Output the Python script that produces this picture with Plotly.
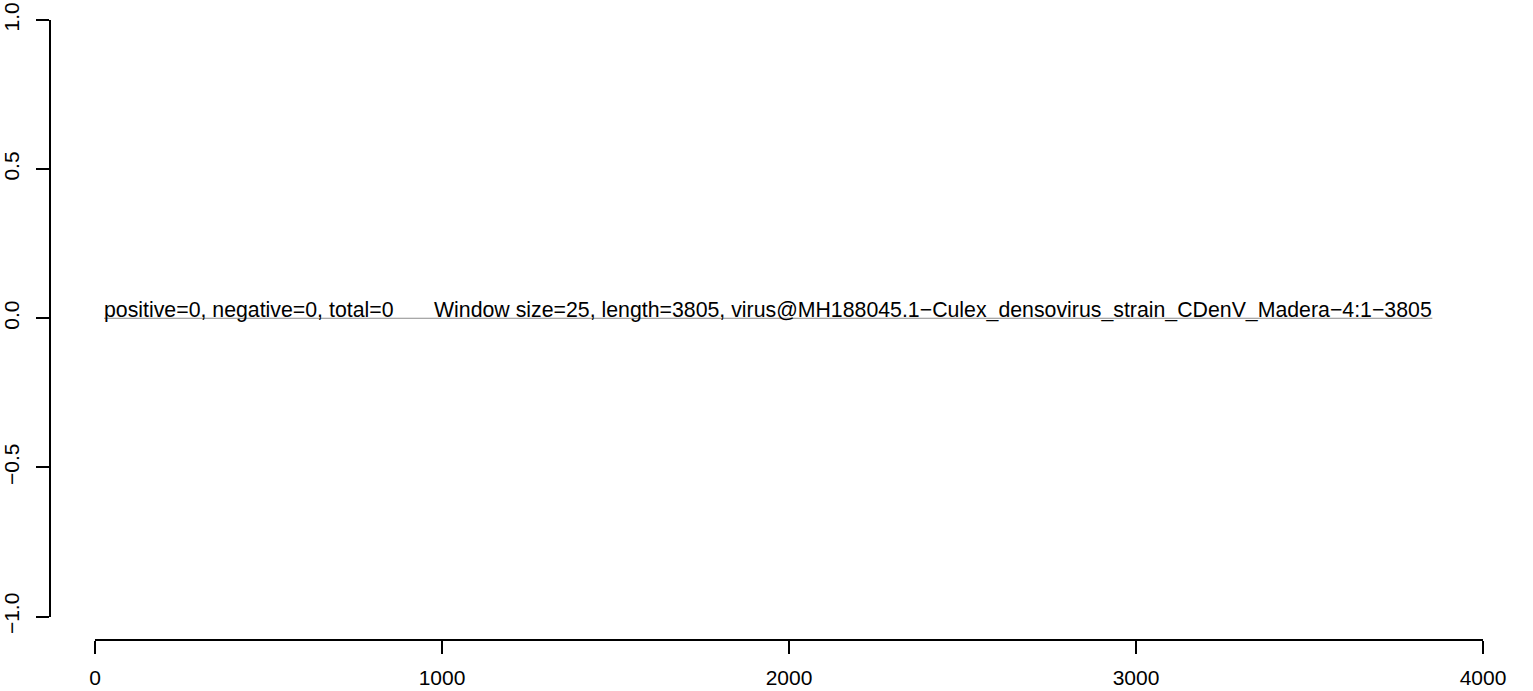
import plotly.graph_objects as go

# Data
window_x = [26, 3854]
window_y = [0, 0]
x_ticks = [0, 1000, 2000, 3000, 4000]
x_ticklabels = ["0", "1000", "2000", "3000", "4000"]
y_ticks = [-1.0, -0.5, 0.0, 0.5, 1.0]
y_ticklabels = ["\u22121.0", "\u22120.5", "0.0", "0.5", "1.0"]
label_left = "positive=0, negative=0, total=0"
label_right = ("Window size=25, length=3805, "
               "virus@MH188045.1\u2212Culex_densovirus_strain_CDenV_Madera\u22124:1\u22123805")

W, H = 1533, 691
ml, mr, mt, mb = 50, 50, 20, 51
pw = W - ml - mr
ph = H - mt - mb

FONT = "Liberation Sans, Arial, Helvetica, sans-serif"
FS = 21
FS_TXT = 21.3

fig = go.Figure()
fig.add_trace(go.Scatter(
    x=window_x, y=window_y, mode="lines",
    line=dict(color="#8c8c8c", width=1),
    hoverinfo="skip", showlegend=False,
))

fig.add_annotation(x=window_x[0], y=window_y[0], text=label_left,
                   xanchor="left", yanchor="bottom", showarrow=False,
                   xshift=-2, yshift=-6,
                   font=dict(family=FONT, size=FS_TXT, color="black"))
fig.add_annotation(x=window_x[-1], y=window_y[-1], text=label_right,
                   xanchor="right", yanchor="bottom", showarrow=False,
                   xshift=2, yshift=-6,
                   font=dict(family=FONT, size=FS_TXT, color="black"))

fig.update_layout(
    width=W, height=H,
    margin=dict(l=ml, r=mr, t=mt, b=mb, pad=0, autoexpand=False),
    paper_bgcolor="white", plot_bgcolor="white",
    font=dict(family=FONT, size=FS, color="black"),
    xaxis=dict(
        range=[0, 4000], domain=[(95 - ml) / pw, 1],
        anchor="free", position=0, automargin=False,
        showgrid=False, zeroline=False,
        showline=True, linecolor="black", linewidth=2,
        ticks="outside", ticklen=13, tickwidth=2, tickcolor="black",
        ticklabelstandoff=6,
        tickvals=x_ticks, ticktext=x_ticklabels,
        tickfont=dict(family=FONT, size=FS),
    ),
    yaxis=dict(
        range=[-1, 1], domain=[23.5 / ph, 1],
        anchor="free", position=0, automargin=False,
        showgrid=False, zeroline=False,
        showline=True, linecolor="black", linewidth=2,
        ticks="outside", ticklen=13, tickwidth=2, tickcolor="black",
        ticklabelstandoff=9,
        tickvals=y_ticks, ticktext=y_ticklabels, tickangle=-90,
        tickfont=dict(family=FONT, size=FS),
    ),
)

# remove the browser's default 8px body margin so the figure fills the window
fig.write_html("out.html", config={"displayModeBar": False},
               post_script="document.body.style.margin='0';")
